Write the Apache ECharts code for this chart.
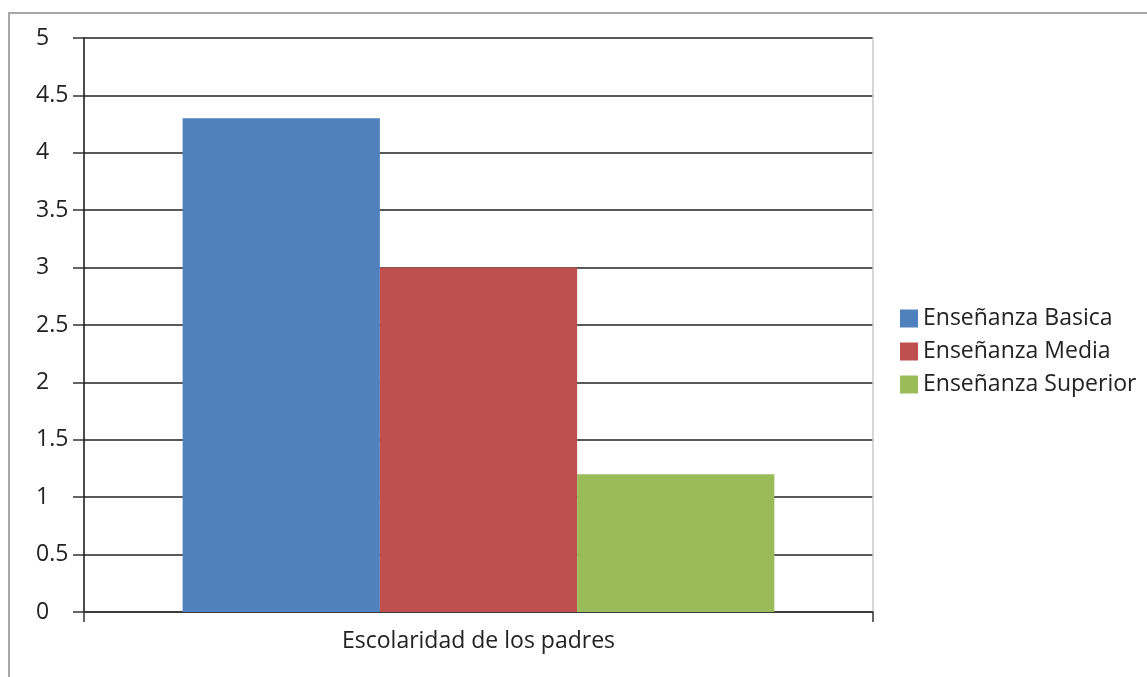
<!DOCTYPE html>
<html>
<head>
<meta charset="utf-8">
<script src="https://cdn.jsdelivr.net/npm/echarts@6/dist/echarts.min.js"></script>
<style>html,body{margin:0;padding:0;background:#fff}#c{width:1147px;height:677px}</style>
</head>
<body>
<div id="c"></div>
<script>
const categories = ['Escolaridad de los padres'];
const seriesNames = ['Enseñanza Basica', 'Enseñanza Media', 'Enseñanza Superior'];
const basica = [4.3];
const media = [3.0];
const superior = [1.2];
const yTicks = [0, 0.5, 1, 1.5, 2, 2.5, 3, 3.5, 4, 4.5, 5];

const colors = ['#4F81BD', '#C0504D', '#9BBB59'];
const font = '"Open Sans", "Noto Sans", sans-serif';
const chart = echarts.init(document.getElementById('c'), null, {renderer: 'canvas'});
const values = [basica, media, superior];
chart.setOption({
  animation: false,
  color: colors,
  graphic: [{
    type: 'polyline',
    shape: {points: [[9, 677], [9, 13], [1147, 13]]},
    style: {stroke: '#a6a6a6', lineWidth: 2, fill: null}
  }],
  grid: {left: 84, right: 274, top: 38, bottom: 65, containLabel: false},
  legend: {
    orient: 'vertical', left: 900, top: 307, padding: 0, itemWidth: 18, itemHeight: 18, itemGap: 10,
    icon: 'rect',
    textStyle: {fontFamily: font, fontSize: 23, color: '#222'},
    data: seriesNames
  },
  xAxis: [{
    type: 'category', data: categories,
    axisLine: {lineStyle: {color: '#333', width: 1.5}},
    axisTick: {show: true, length: 10, lineStyle: {color: '#333', width: 1.5}},
    axisLabel: {fontFamily: font, fontSize: 23, color: '#222', margin: 18}
  }],
  yAxis: [{
    type: 'value', min: yTicks[0], max: yTicks[yTicks.length - 1], interval: 0.5,
    axisLine: {show: true, lineStyle: {color: '#111', width: 1.5}},
    axisTick: {show: true, length: 11, lineStyle: {color: '#333', width: 1.5}},
    splitLine: {show: true, lineStyle: {color: '#222', width: 1.5}},
    axisLabel: {fontFamily: font, fontSize: 23, color: '#222', align: 'left', margin: 48,
      formatter: v => String(v)}
  }, {
    type: 'value', min: yTicks[0], max: yTicks[yTicks.length - 1], interval: 0.5, position: 'right',
    axisLine: {show: true, lineStyle: {color: '#c8c8c8', width: 1.5}},
    axisTick: {show: false}, axisLabel: {show: false}, splitLine: {show: false}
  }],
  series: seriesNames.map((n, i) => ({
    name: n, type: 'bar', data: values[i], barGap: '0%', barCategoryGap: '25%'
  }))
});
</script>
</body>
</html>
